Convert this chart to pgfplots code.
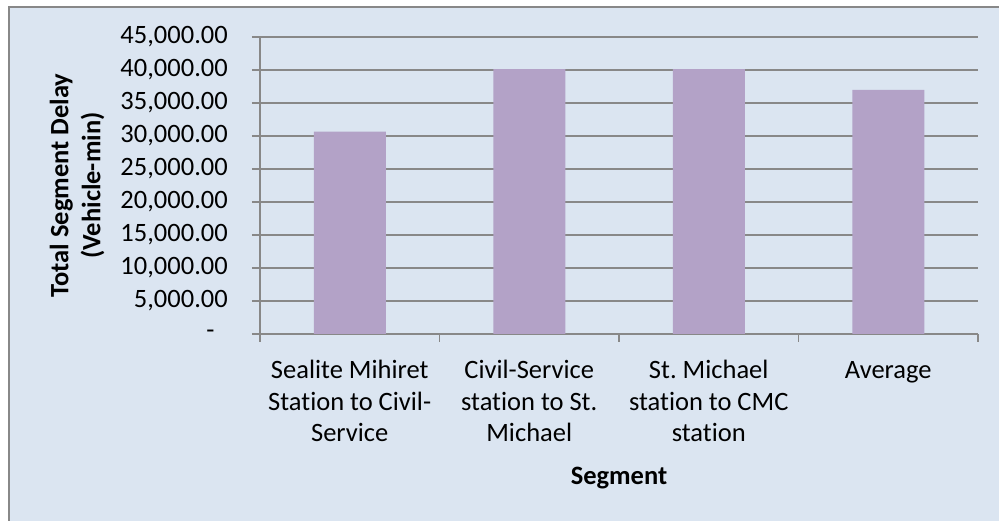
\documentclass[border=0pt]{standalone}
\usepackage{pgfplots}
\pgfplotsset{compat=1.18}
\usepackage{fontspec}
\setmainfont{Carlito}[Ligatures=CommonOff]
\definecolor{bgblue}{HTML}{DBE5F1}
\definecolor{barpurple}{HTML}{B3A2C7}
\definecolor{gridgray}{HTML}{888888}
\frenchspacing
\begin{document}
\fontsize{26.5pt}{31.5pt}\selectfont
\begin{tikzpicture}
\useasboundingbox (0,0) rectangle (999pt,521pt);
\fill[white] (0,0) rectangle (999pt,521pt);
\fill[bgblue] (9pt,0) rectangle (999pt,514pt);
\draw[gridgray, line width=2pt] (9.3pt,0) -- (9.3pt,514pt) -- (999pt,514pt);
\begin{axis}[
 at={(260pt,187pt)}, anchor=south west,
 scale only axis, width=718pt, height=297pt,
 ybar, bar width=72pt,
 xmin=0.5, xmax=4.5, ymin=0, ymax=45000,
 enlargelimits=false,
 scaled y ticks=false,
 axis x line=bottom, axis y line=left,
 axis line style={-, gridgray, line width=1.2pt},
 tick align=outside,
 major tick length=8pt, minor tick length=8pt,
 tick style={gridgray, line width=1.2pt},
 xtick={1,2,3,4},
 xticklabels={{\strut Sealite Mihiret\\Station to Civil-\\Service},{\strut Civil-Service\\station to St.\\Michael},{\strut St. Michael\\station to CMC\\station},{\strut Average}},
 major x tick style={draw=none},
 minor xtick={0.5,1.5,2.5,3.5,4.5},
 xticklabel style={anchor=north, align=center, inner sep=0pt, yshift=-14.6pt, font=\fontsize{26.5pt}{31.3pt}\selectfont},
 ytick={0,5000,10000,15000,20000,25000,30000,35000,40000,45000},
 yticklabels={{-\hphantom{0}},{5,000.00},{10,000.00},{15,000.00},{20,000.00},{25,000.00},{30,000.00},{35,000.00},{40,000.00},{45,000.00}},
 yticklabel style={anchor=east, inner sep=0pt, xshift=-24pt, font=\fontsize{26.5pt}{31.5pt}\selectfont},
 ymajorgrids,
 grid style={gridgray, line width=1.2pt},
 xlabel={Segment},
 ylabel={Total Segment Delay\\(Vehicle-min)},
 xlabel style={at={(axis description cs:0.5,-0.4848)}, anchor=center, font=\fontsize{26.5pt}{31.5pt}\selectfont\bfseries},
 ylabel style={at={(axis description cs:-0.2549,0.5)}, anchor=center, align=center, font=\fontsize{26.5pt}{32pt}\selectfont\bfseries},
]
\addplot[fill=barpurple, draw=none] coordinates {(1,30650) (2,40150) (3,40150) (4,36983)};
\end{axis}
\end{tikzpicture}
\end{document}
